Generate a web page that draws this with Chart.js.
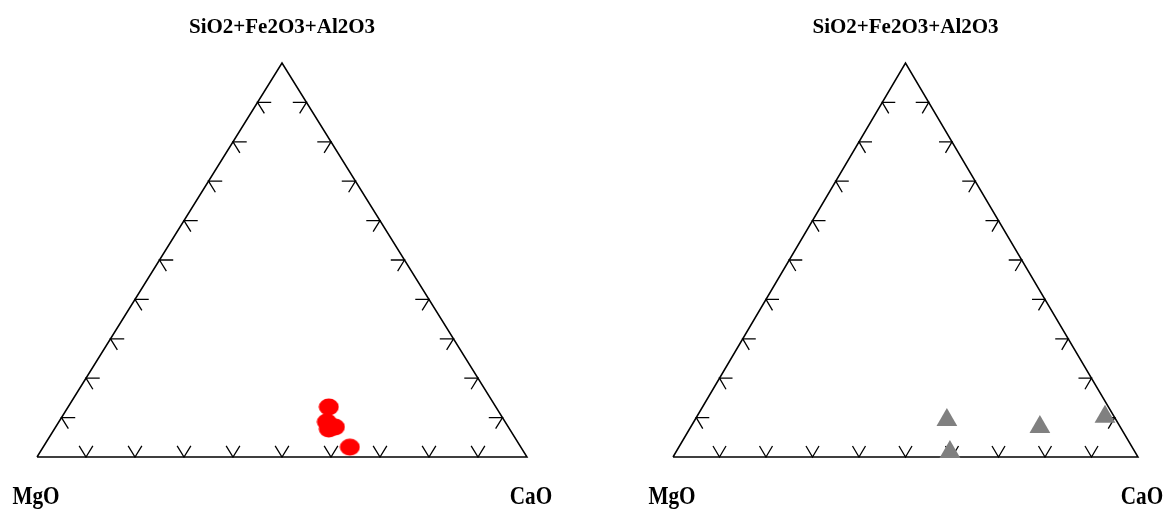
<!DOCTYPE html>
<html>
<head>
<meta charset="utf-8">
<script src="https://cdn.jsdelivr.net/npm/chart.js@4/dist/chart.umd.min.js"></script>
<style>
body { margin: 0; background: #fff; }
.pannello { position: absolute; top: 0; }
</style>
</head>
<body>
<div class="pannello" style="left:0"><canvas id="grafico1" width="582" height="509"></canvas></div>
<div class="pannello" style="left:582px"><canvas id="grafico2" width="583" height="509"></canvas></div>
<script>
// etichette dei vertici: alto, sinistra, destra
var vertici = ["SiO2+Fe2O3+Al2O3", "MgO", "CaO"];
var tacche = [0.1, 0.2, 0.3, 0.4, 0.5, 0.6, 0.7, 0.8, 0.9];

// campioni grafico sinistro (frazioni)
var campioniA_sio2 = [0.127, 0.089, 0.076, 0.071, 0.025];
var campioniA_mgo  = [0.341, 0.364, 0.354, 0.369, 0.349];
var campioniA_cao  = [0.532, 0.547, 0.570, 0.560, 0.626];

// campioni grafico destro
var campioniB_sio2 = [0.094, 0.013, 0.076, 0.102];
var campioniB_mgo  = [0.364, 0.398, 0.173, 0.020];
var campioniB_cao  = [0.542, 0.589, 0.751, 0.878];

var lungTacca = 0.028;

function ternario(s, m, c){
    var tot = s + m + c;
    return { x: (c + s / 2) / tot, y: s / tot };
}

function puntiTacche(){
    var p = [];
    var L = lungTacca;
    var salto = { x: null, y: null };
    for (var i = 0; i < tacche.length; i++){
        var t = tacche[i];
        // base
        p.push(ternario(L, 1 - t - L, t), ternario(0, 1 - t, t), ternario(L, 1 - t, t - L), salto);
        // lato sinistro
        p.push(ternario(t, 1 - t - L, L), ternario(t, 1 - t, 0), ternario(t - L, 1 - t, L), salto);
        // lato destro
        p.push(ternario(t, L, 1 - t - L), ternario(t, 0, 1 - t), ternario(t - L, L, 1 - t), salto);
    }
    return p;
}

// pallino leggermente schiacciato come nell'originale
function creaEllisse(colore){
    var c = document.createElement('canvas');
    c.width = 21;
    c.height = 18;
    var g = c.getContext('2d');
    g.fillStyle = colore;
    g.beginPath();
    g.ellipse(10.5, 9, 10, 8.5, 0, 0, Math.PI * 2);
    g.fill();
    return c;
}

var pluginEtichette = {
    id: 'etichette',
    afterDraw: function(chart){
        var ctx = chart.ctx;
        var sx = chart.scales.x;
        ctx.save();
        ctx.fillStyle = '#000';
        ctx.textAlign = 'center';
        ctx.textBaseline = 'alphabetic';
        ctx.font = 'bold 21px "Liberation Serif", serif';
        ctx.fillText(vertici[0], sx.getPixelForValue(0.5), 33);
        ctx.font = 'bold 25px "Liberation Serif", serif';
        var basi = [[vertici[1], sx.getPixelForValue(0) - 1], [vertici[2], sx.getPixelForValue(1) + 4]];
        for (var i = 0; i < basi.length; i++){
            ctx.save();
            ctx.translate(basi[i][1], 504);
            ctx.scale(0.85, 1);
            ctx.fillText(basi[i][0], 0, 0);
            ctx.restore();
        }
        ctx.restore();
    }
};

function creaTernario(id, sio2, mgo, cao, stile, colore, raggio, padding){
    var punti = [];
    for (var i = 0; i < sio2.length; i++){
        punti.push(ternario(sio2[i], mgo[i], cao[i]));
    }
    var bordo = [ternario(0, 1, 0), ternario(0, 0, 1), ternario(1, 0, 0), ternario(0, 1, 0)];

    return new Chart(document.getElementById(id).getContext('2d'), {
        type: 'scatter',
        data: {
            datasets: [
                {
                    data: punti,
                    pointStyle: stile,
                    pointRadius: raggio,
                    backgroundColor: colore,
                    borderColor: colore,
                    borderWidth: 0,
                    clip: false
                },
                {
                    data: bordo,
                    showLine: true,
                    borderColor: '#000',
                    borderWidth: 1.5,
                    pointRadius: 0,
                    clip: false
                },
                {
                    data: puntiTacche(),
                    showLine: true,
                    spanGaps: false,
                    borderColor: '#000',
                    borderWidth: 1.3,
                    pointRadius: 0,
                    clip: false
                }
            ]
        },
        options: {
            responsive: false,
            animation: false,
            layout: { padding: padding },
            plugins: { legend: { display: false }, tooltip: { enabled: false } },
            scales: {
                x: { type: 'linear', min: 0, max: 1, display: false },
                y: { type: 'linear', min: 0, max: 1, display: false }
            }
        },
        plugins: [pluginEtichette]
    });
}

creaTernario('grafico1', campioniA_sio2, campioniA_mgo, campioniA_cao, creaEllisse('#ff0000'), '#ff0000', 10,
    { left: 37, right: 55, top: 63, bottom: 52 });
creaTernario('grafico2', campioniB_sio2, campioniB_mgo, campioniB_cao, 'triangle', '#808080', 12,
    { left: 91, right: 27, top: 63, bottom: 52 });
</script>
</body>
</html>
